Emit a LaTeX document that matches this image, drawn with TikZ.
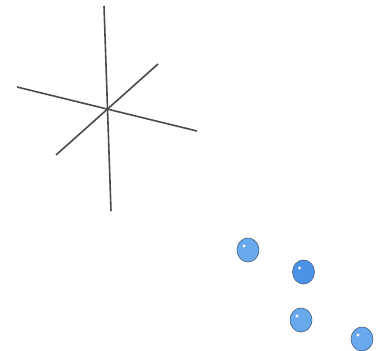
\documentclass[tikz,border=0pt]{standalone}
\usetikzlibrary{shapes.geometric}
\definecolor{axisgray}{HTML}{4A4A4A}
\definecolor{balllight}{HTML}{68A9EE}
\definecolor{balldark}{HTML}{4A93E6}
\definecolor{ballrim}{HTML}{3F5F80}
\tikzset{
  axisline/.style={draw=axisgray, line width=1.6pt},
  ball/.style={ellipse, draw=ballrim, line width=0.6pt, fill=balllight, minimum width=22pt, minimum height=24pt, inner sep=0pt},
  balld/.style={ball, fill=balldark},
  shine/.style={circle, fill=white, minimum size=3.2pt, inner sep=0pt}
}
\begin{document}
\begin{tikzpicture}[x=1pt,y=-1pt]
\useasboundingbox (0,0) rectangle (378,351);
% axes
\coordinate (v1) at (104,6);
\coordinate (v2) at (111,211);
\coordinate (h1) at (17,87);
\coordinate (h2) at (197,131);
\coordinate (d1) at (56,155);
\coordinate (d2) at (158,64);
\draw[axisline] (v1) -- (v2);
\draw[axisline] (h1) -- (h2);
\draw[axisline] (d1) -- (d2);
% balls
\node[ball] (b1) at (248,250) {};
\node[balld] (b2) at (303.5,272) {};
\node[ball] (b3) at (301,320) {};
\node[ball] (b4) at (362,339) {};
\node[shine] (s1) at ([xshift=-4pt,yshift=4pt]b1.center) {};
\node[shine] (s2) at ([xshift=-4pt,yshift=4pt]b2.center) {};
\node[shine] (s3) at ([xshift=-4pt,yshift=4pt]b3.center) {};
\node[shine] (s4) at ([xshift=-4pt,yshift=4pt]b4.center) {};
\end{tikzpicture}
\end{document}
